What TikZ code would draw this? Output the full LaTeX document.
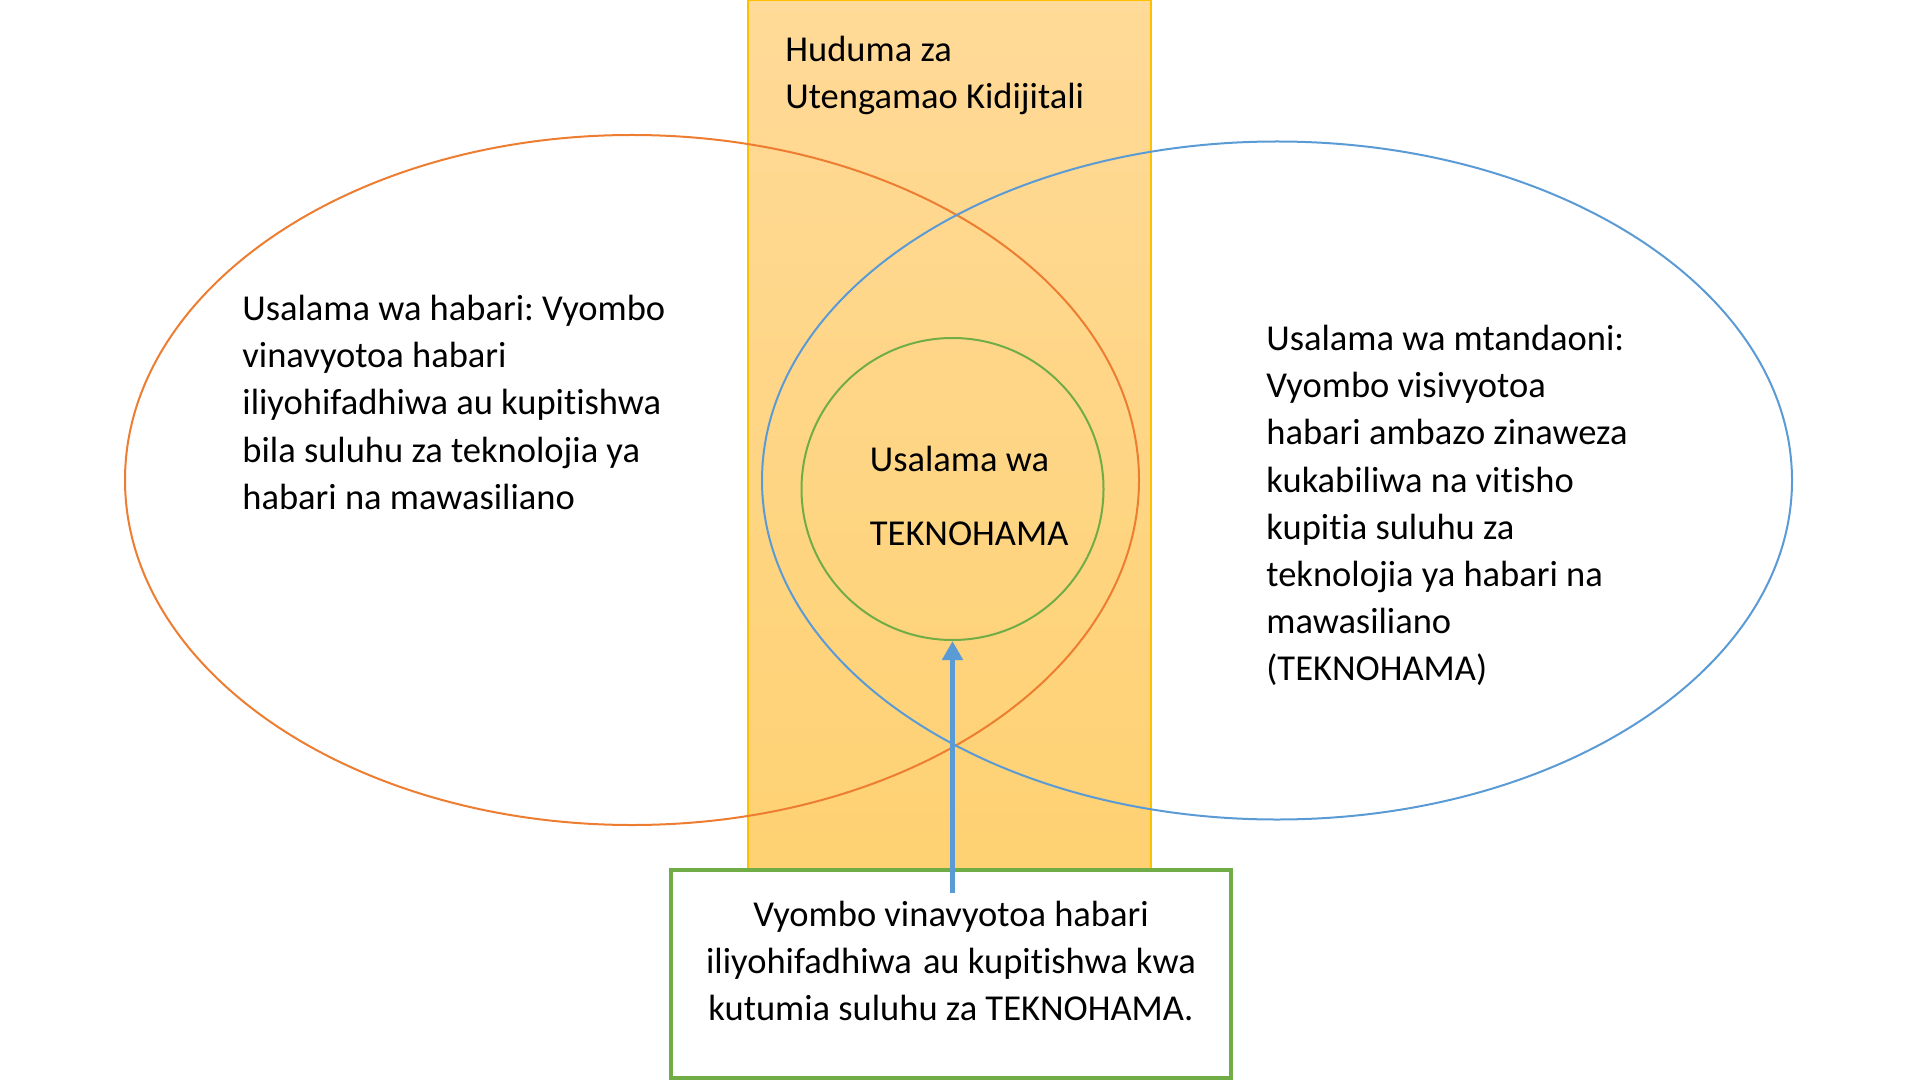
\documentclass[tikz,border=0pt]{standalone}
\usepackage{fontspec}
\setmainfont{Carlito}[Ligatures=NoCommon]
\usetikzlibrary{shapes.geometric,arrows.meta}
\definecolor{orangeL}{HTML}{ED7D31}
\definecolor{blueL}{HTML}{5B9BD5}
\definecolor{greenL}{HTML}{70AD47}
\definecolor{goldL}{HTML}{FFC000}
\definecolor{goldTop}{HTML}{FFDA98}
\definecolor{goldBot}{HTML}{FED172}
\frenchspacing
\tikzset{
  txt/.style={inner sep=0pt, align=left, font=\fontsize{18.25pt}{23.6pt}\selectfont},
  venn/.style={ellipse, draw, line width=1pt, inner sep=0pt},
}
\begin{document}
\begin{tikzpicture}[x=0.5pt,y=-0.5pt]
\useasboundingbox (0,0) rectangle (1920,1080);
% vertical band
\shade[top color=goldTop, bottom color=goldBot] (748,0.5) rectangle (1151,869);
\draw[goldL, line width=0.8pt] (748,869) -- (748,0.5) -- (1151,0.5) -- (1151,869);
% ellipses
\node[venn, draw=orangeL, minimum width=507pt, minimum height=345pt] (infosec) at (632,480) {};
\node[venn, draw=blueL, minimum width=515pt, minimum height=339pt] (cybersec) at (1277,480.5) {};
\node[circle, draw=greenL, line width=1pt, inner sep=0pt, minimum size=151pt] (ictsec) at (952.5,489) {};
% bottom box
\node[draw=greenL, fill=white, line width=1.8pt, minimum width=280pt, minimum height=104pt, inner sep=0pt] (box) at (951,974) {};
% texts (anchored at the baseline of their last line)
\node[txt, anchor=base west] (band) at (785,108.5) {Huduma za\\[-0.35pt]Utengamao Kidijitali};
\node[txt, anchor=base west] (lefttxt) at (242,509.3) {Usalama wa habari: Vyombo\\vinavyotoa habari\\iliyohifadhiwa au kupitishwa\\bila suluhu za teknolojia ya\\habari na mawasiliano};
\node[txt, anchor=base west] (righttxt) at (1266,680.9) {Usalama wa mtandaoni:\\Vyombo visivyotoa\\habari ambazo zinaweza\\kukabiliwa na vitisho\\kupitia suluhu za\\teknolojia ya habari na\\mawasiliano\\(TEKNOHAMA)};
\node[txt, anchor=base west] (circtxt) at (869.5,545) {Usalama wa\\[13.4pt]TEKNOHAMA};
\node[txt, align=center, anchor=base] (boxtxt) at (951,1020.4) {Vyombo vinavyotoa habari\\iliyohifadhiwa\ \hspace{1.5pt}au kupitishwa kwa\\kutumia suluhu za TEKNOHAMA.};
% arrow
\coordinate (arrowstart) at (952.5,893);
\draw[blueL, line width=2.4pt, -{Triangle[length=9.5pt,width=10pt]}] (arrowstart) -- (ictsec.south);
\end{tikzpicture}
\end{document}
